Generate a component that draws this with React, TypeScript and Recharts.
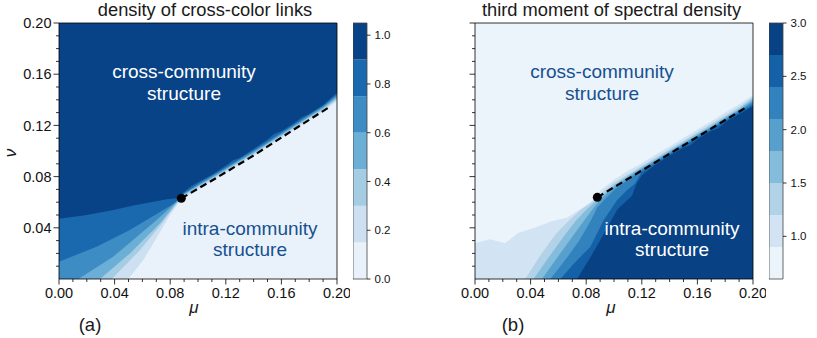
import React from 'react';
import {
  ComposedChart,
  Area,
  Line,
  Scatter,
  XAxis,
  YAxis,
  CartesianGrid,
  ReferenceLine,
  ReferenceArea,
} from 'recharts';

const FONT = '"Liberation Sans", Arial, Helvetica, sans-serif';

// ---------- axis ticks ----------
const X_TICKS = [0, 0.01, 0.02, 0.03, 0.04, 0.05, 0.06, 0.07, 0.08, 0.09, 0.1, 0.11, 0.12, 0.13, 0.14, 0.15, 0.16, 0.17, 0.18, 0.19, 0.2];
const X_LABELS = [0, 0.04, 0.08, 0.12, 0.16, 0.2];
const Y_TICKS = [0.01, 0.02, 0.03, 0.04, 0.05, 0.06, 0.07, 0.08, 0.09, 0.1, 0.11, 0.12, 0.13, 0.14, 0.15, 0.16, 0.17, 0.18, 0.19, 0.2];
const Y_LABELS = [0.04, 0.08, 0.12, 0.16, 0.2];

// ---------- colorbars ----------
const LEVELS_A = [0, 0.15, 0.3, 0.45, 0.6, 0.75, 0.9, 1.05];
const CB_TICKS_A = [0, 0.2, 0.4, 0.6, 0.8, 1.0];
const COLORS_A = ['#e9f2fa', '#cde0f1', '#a4cce3', '#6baed6', '#3d8dc4', '#1a68ae', '#084387'];

const LEVELS_B = [0.6, 0.9, 1.2, 1.5, 1.8, 2.1, 2.4, 2.7, 3.0];
const CB_TICKS_B = [1.0, 1.5, 2.0, 2.5, 3.0];
const COLORS_B = ['#ebf3fb', '#d2e3f3', '#b2d2e8', '#84bcdb', '#57a0ce', '#3282be', '#1461a8', '#084184'];

// ---------- panel (a): contour boundaries (nu as function of mu) ----------
const A_090 = [
  { x: 0, y: 0.047 }, { x: 0.02, y: 0.05 }, { x: 0.039, y: 0.0539 }, { x: 0.0535, y: 0.0575 },
  { x: 0.0775, y: 0.0623 }, { x: 0.085, y: 0.063 }, { x: 0.09, y: 0.068 }, { x: 0.095, y: 0.0725 },
  { x: 0.1, y: 0.0755 }, { x: 0.11, y: 0.0815 }, { x: 0.12, y: 0.0885 }, { x: 0.125, y: 0.0925 },
  { x: 0.13, y: 0.0945 }, { x: 0.14, y: 0.1015 }, { x: 0.15, y: 0.109 }, { x: 0.155, y: 0.1135 },
  { x: 0.16, y: 0.1155 }, { x: 0.17, y: 0.1225 }, { x: 0.175, y: 0.1265 }, { x: 0.18, y: 0.129 },
  { x: 0.19, y: 0.136 }, { x: 0.2, y: 0.1455 },
];
const A_075 = [
  { x: 0, y: 0.0135 }, { x: 0.027, y: 0.0252 }, { x: 0.051, y: 0.0383 }, { x: 0.075, y: 0.0539 },
  { x: 0.0847, y: 0.0604 }, { x: 0.09, y: 0.0672 }, { x: 0.1, y: 0.0743 }, { x: 0.11, y: 0.0807 },
  { x: 0.12, y: 0.0872 }, { x: 0.13, y: 0.0937 }, { x: 0.14, y: 0.1003 }, { x: 0.15, y: 0.1073 },
  { x: 0.16, y: 0.1143 }, { x: 0.17, y: 0.1213 }, { x: 0.18, y: 0.1283 }, { x: 0.19, y: 0.1351 },
  { x: 0.2, y: 0.1442 },
];
const A_060 = [
  { x: 0.0139, y: 0 }, { x: 0.039, y: 0.0174 }, { x: 0.0703, y: 0.046 }, { x: 0.0822, y: 0.058 },
  { x: 0.09, y: 0.0665 }, { x: 0.1, y: 0.0733 }, { x: 0.11, y: 0.0797 }, { x: 0.12, y: 0.0862 },
  { x: 0.13, y: 0.0927 }, { x: 0.14, y: 0.0993 }, { x: 0.15, y: 0.1063 }, { x: 0.16, y: 0.1133 },
  { x: 0.17, y: 0.1203 }, { x: 0.18, y: 0.1273 }, { x: 0.19, y: 0.1341 }, { x: 0.2, y: 0.1428 },
];
const A_045 = [
  { x: 0.0295, y: 0 }, { x: 0.051, y: 0.02 }, { x: 0.0727, y: 0.0435 }, { x: 0.0835, y: 0.058 },
  { x: 0.09, y: 0.0658 }, { x: 0.1, y: 0.0724 }, { x: 0.11, y: 0.0788 }, { x: 0.12, y: 0.0853 },
  { x: 0.13, y: 0.0918 }, { x: 0.14, y: 0.0984 }, { x: 0.15, y: 0.1054 }, { x: 0.16, y: 0.1124 },
  { x: 0.17, y: 0.1194 }, { x: 0.18, y: 0.1264 }, { x: 0.19, y: 0.1332 }, { x: 0.2, y: 0.1414 },
];
const A_030 = [
  { x: 0.038, y: 0 }, { x: 0.0583, y: 0.0227 }, { x: 0.075, y: 0.0448 }, { x: 0.0847, y: 0.059 },
  { x: 0.09, y: 0.065 }, { x: 0.1, y: 0.0715 }, { x: 0.11, y: 0.0779 }, { x: 0.12, y: 0.0844 },
  { x: 0.13, y: 0.0909 }, { x: 0.14, y: 0.0975 }, { x: 0.15, y: 0.1045 }, { x: 0.16, y: 0.1115 },
  { x: 0.17, y: 0.1185 }, { x: 0.18, y: 0.1255 }, { x: 0.19, y: 0.1323 }, { x: 0.2, y: 0.1402 },
];
const A_015 = [
  { x: 0.0499, y: 0 }, { x: 0.0607, y: 0.0148 }, { x: 0.0714, y: 0.0344 }, { x: 0.0799, y: 0.05 },
  { x: 0.0858, y: 0.059 }, { x: 0.09, y: 0.0635 }, { x: 0.1, y: 0.07 }, { x: 0.11, y: 0.0764 },
  { x: 0.12, y: 0.0829 }, { x: 0.13, y: 0.0894 }, { x: 0.14, y: 0.096 }, { x: 0.15, y: 0.103 },
  { x: 0.16, y: 0.11 }, { x: 0.17, y: 0.117 }, { x: 0.18, y: 0.124 }, { x: 0.19, y: 0.1307 },
  { x: 0.2, y: 0.139 },
];
const DASH_A = [
  { x: 0.088, y: 0.063 }, { x: 0.111, y: 0.0775 }, { x: 0.14, y: 0.0965 },
  { x: 0.1686, y: 0.1165 }, { x: 0.194, y: 0.134 },
];
const DOT_A = [{ x: 0.088, y: 0.063 }];

// ---------- panel (b) ----------
const B_090 = [
  { x: 0, y: 0.028 }, { x: 0.0108, y: 0.031 }, { x: 0.0217, y: 0.028 }, { x: 0.031, y: 0.036 },
  { x: 0.043, y: 0.04 }, { x: 0.0544, y: 0.045 }, { x: 0.0664, y: 0.048 }, { x: 0.0785, y: 0.0565 },
  { x: 0.0843, y: 0.061 }, { x: 0.09, y: 0.069 }, { x: 0.1, y: 0.0775 }, { x: 0.11, y: 0.0845 },
  { x: 0.12, y: 0.0905 }, { x: 0.13, y: 0.0972 }, { x: 0.14, y: 0.1035 }, { x: 0.15, y: 0.1102 },
  { x: 0.16, y: 0.1168 }, { x: 0.17, y: 0.1232 }, { x: 0.18, y: 0.13 }, { x: 0.19, y: 0.1365 },
  { x: 0.2, y: 0.1437 },
];
const B_120 = [
  { x: 0.0361, y: 0 }, { x: 0.048, y: 0.02 }, { x: 0.058, y: 0.035 }, { x: 0.068, y: 0.046 },
  { x: 0.076, y: 0.054 }, { x: 0.084, y: 0.06 }, { x: 0.09, y: 0.0665 }, { x: 0.1, y: 0.0752 },
  { x: 0.11, y: 0.0819 }, { x: 0.12, y: 0.0885 }, { x: 0.13, y: 0.095 }, { x: 0.14, y: 0.1016 },
  { x: 0.15, y: 0.1081 }, { x: 0.16, y: 0.1147 }, { x: 0.17, y: 0.1212 }, { x: 0.18, y: 0.1278 },
  { x: 0.19, y: 0.1343 }, { x: 0.2, y: 0.1422 },
];
const B_150 = [
  { x: 0.0421, y: 0 }, { x: 0.055, y: 0.02 }, { x: 0.065, y: 0.035 }, { x: 0.073, y: 0.046 },
  { x: 0.08, y: 0.054 }, { x: 0.087, y: 0.061 }, { x: 0.095, y: 0.0685 }, { x: 0.1, y: 0.0735 },
  { x: 0.11, y: 0.0806 }, { x: 0.12, y: 0.0873 }, { x: 0.13, y: 0.0938 }, { x: 0.14, y: 0.1004 },
  { x: 0.15, y: 0.1069 }, { x: 0.16, y: 0.1135 }, { x: 0.17, y: 0.12 }, { x: 0.18, y: 0.1266 },
  { x: 0.19, y: 0.1331 }, { x: 0.2, y: 0.141 },
];
const B_180 = [
  { x: 0.0482, y: 0 }, { x: 0.06, y: 0.018 }, { x: 0.07, y: 0.033 }, { x: 0.078, y: 0.045 },
  { x: 0.085, y: 0.055 }, { x: 0.09, y: 0.062 }, { x: 0.1, y: 0.0718 }, { x: 0.11, y: 0.0795 },
  { x: 0.12, y: 0.0863 }, { x: 0.13, y: 0.0928 }, { x: 0.14, y: 0.0994 }, { x: 0.15, y: 0.1059 },
  { x: 0.16, y: 0.1125 }, { x: 0.17, y: 0.119 }, { x: 0.18, y: 0.1256 }, { x: 0.19, y: 0.1321 },
  { x: 0.2, y: 0.1395 },
];
const B_210 = [
  { x: 0.0542, y: 0 }, { x: 0.065, y: 0.015 }, { x: 0.075, y: 0.03 }, { x: 0.083, y: 0.045 },
  { x: 0.088, y: 0.056 }, { x: 0.095, y: 0.064 }, { x: 0.1, y: 0.0695 }, { x: 0.11, y: 0.0775 },
  { x: 0.12, y: 0.0853 }, { x: 0.13, y: 0.0918 }, { x: 0.14, y: 0.0984 }, { x: 0.15, y: 0.1049 },
  { x: 0.16, y: 0.1115 }, { x: 0.17, y: 0.118 }, { x: 0.18, y: 0.1246 }, { x: 0.19, y: 0.1311 },
  { x: 0.2, y: 0.138 },
];
const B_240 = [
  { x: 0.0614, y: 0 }, { x: 0.071, y: 0.012 }, { x: 0.083, y: 0.0252 }, { x: 0.0926, y: 0.046 },
  { x: 0.1023, y: 0.0617 }, { x: 0.1095, y: 0.0695 }, { x: 0.115, y: 0.0745 }, { x: 0.12, y: 0.0835 },
  { x: 0.13, y: 0.0905 }, { x: 0.14, y: 0.0972 }, { x: 0.15, y: 0.1037 }, { x: 0.16, y: 0.1103 },
  { x: 0.17, y: 0.1168 }, { x: 0.18, y: 0.1234 }, { x: 0.19, y: 0.1299 }, { x: 0.2, y: 0.1362 },
];
const B_270 = [
  { x: 0.0734, y: 0 }, { x: 0.0833, y: 0.0174 }, { x: 0.0929, y: 0.0357 }, { x: 0.1025, y: 0.0545 },
  { x: 0.113, y: 0.065 }, { x: 0.1158, y: 0.0734 }, { x: 0.12, y: 0.081 }, { x: 0.13, y: 0.0895 },
  { x: 0.14, y: 0.0962 }, { x: 0.15, y: 0.1025 }, { x: 0.155, y: 0.1045 }, { x: 0.16, y: 0.1092 },
  { x: 0.17, y: 0.1158 }, { x: 0.175, y: 0.1175 }, { x: 0.18, y: 0.1225 }, { x: 0.19, y: 0.1288 },
  { x: 0.2, y: 0.135 },
];
const DASH_B = [
  { x: 0.088, y: 0.0638 }, { x: 0.11, y: 0.0782 }, { x: 0.136, y: 0.0952 },
  { x: 0.165, y: 0.1143 }, { x: 0.195, y: 0.134 },
];
const DOT_B = [{ x: 0.088, y: 0.0638 }];

const CURVES_A = [A_090, A_075, A_060, A_045, A_030, A_015];
const CURVES_B = [B_090, B_120, B_150, B_180, B_210, B_240, B_270];

const isIn = (arr: number[], v: number) => arr.some((a) => Math.abs(a - v) < 1e-9);

const makeXTick = (labels: number[]) => (props: any) => {
  const { x, y, payload } = props;
  const v = payload.value;
  const major = isIn(labels, v);
  const len = major ? 5.5 : 3;
  return (
    <g>
      <line x1={x} x2={x} y1={y} y2={y + len} stroke="#000" strokeWidth={0.8} />
      {major && (
        <text x={x} y={y + 19} textAnchor="middle" fontSize={14.5} fill="#111" fontFamily={FONT}>
          {v.toFixed(2)}
        </text>
      )}
    </g>
  );
};

const makeYTick = (labels: number[], show: boolean) => (props: any) => {
  const { x, y, payload } = props;
  const v = payload.value;
  const major = isIn(labels, v);
  const len = major ? 5.5 : 3;
  return (
    <g>
      <line x1={x - len} x2={x} y1={y} y2={y} stroke="#000" strokeWidth={0.8} />
      {major && show && (
        <text x={x - 7.5} y={y + 5.2} textAnchor="end" fontSize={14.5} fill="#111" fontFamily={FONT}>
          {v.toFixed(2)}
        </text>
      )}
    </g>
  );
};

function Panel(props: {
  left: number;
  grid: string;
  curves: { x: number; y: number }[][];
  colors: string[];
  dash: { x: number; y: number }[];
  dot: { x: number; y: number }[];
  showYLabels: boolean;
}) {
  const { left, grid, curves, colors, dash, dot, showYLabels } = props;
  return (
    <div style={{ position: 'absolute', left, top: 0 }}>
      <ComposedChart width={350} height={338} margin={{ top: 23, right: 13, bottom: 0, left: 0 }}>
        <CartesianGrid horizontal={false} vertical={false} fill={grid} fillOpacity={1} />
        <XAxis
          type="number"
          dataKey="x"
          domain={[0, 0.2]}
          ticks={X_TICKS}
          interval={0}
          height={59}
          tickSize={0}
          tickMargin={0}
          tickLine={false}
          axisLine={{ stroke: '#000', strokeWidth: 0.8 }}
          tick={makeXTick(X_LABELS)}
          allowDataOverflow
        />
        <YAxis
          type="number"
          dataKey="y"
          domain={[0, 0.2]}
          ticks={Y_TICKS}
          interval={0}
          width={59}
          tickSize={0}
          tickMargin={0}
          tickLine={false}
          axisLine={{ stroke: '#000', strokeWidth: 0.8 }}
          tick={makeYTick(Y_LABELS, showYLabels)}
          allowDataOverflow
        />
        {curves.map((d, i) => (
          <Area
            key={i}
            data={d}
            dataKey="y"
            type="linear"
            stroke="none"
            fill={colors[i]}
            fillOpacity={1}
            baseValue={0}
            dot={false}
            activeDot={false}
            isAnimationActive={false}
          />
        ))}
        <Line
          data={dash}
          dataKey="y"
          type="linear"
          stroke="#000"
          strokeWidth={2.2}
          strokeDasharray="7 4"
          dot={false}
          activeDot={false}
          isAnimationActive={false}
        />
        <Scatter data={dot} dataKey="y" fill="#000" isAnimationActive={false} />
        <ReferenceLine y={0.2} stroke="#000" strokeWidth={0.8} />
        <ReferenceLine x={0.2} stroke="#000" strokeWidth={0.8} />
      </ComposedChart>
    </div>
  );
}

function ColorBar(props: { left: number; levels: number[]; colors: string[]; ticks: number[]; axisWidth: number }) {
  const { left, levels, colors, ticks, axisWidth } = props;
  const lo = levels[0];
  const hi = levels[levels.length - 1];
  return (
    <div style={{ position: 'absolute', left, top: 0 }}>
      <ComposedChart width={14 + axisWidth} height={338} margin={{ top: 23, right: 0, bottom: 59, left: 0 }}>
        <XAxis type="number" dataKey="x" domain={[0, 1]} hide allowDataOverflow />
        <YAxis
          type="number"
          orientation="right"
          domain={[lo, hi]}
          ticks={ticks}
          interval={0}
          width={axisWidth}
          tickSize={3.5}
          tickMargin={4}
          axisLine={false}
          tickLine={{ stroke: '#000', strokeWidth: 0.8 }}
          tick={{ fontSize: 11.5, fill: '#111', fontFamily: FONT }}
          tickFormatter={(v: number) => v.toFixed(1)}
          allowDataOverflow
        />
        {colors.map((c, i) => (
          <ReferenceArea
            key={i}
            x1={0}
            x2={1}
            y1={levels[i]}
            y2={levels[i + 1]}
            fill={c}
            fillOpacity={1}
            stroke="none"
          />
        ))}
        <ReferenceArea x1={0} x2={1} y1={lo} y2={hi} fill="none" fillOpacity={0} stroke="#444" strokeWidth={0.8} />
      </ComposedChart>
    </div>
  );
}

export default function App() {
  const titleStyle = { fontFamily: FONT, fontSize: 18.3, fill: '#1a1a1a' } as const;
  const annot = { fontFamily: FONT, fontSize: 19 } as const;
  const navy = '#17508f';
  return (
    <div
      style={{
        position: 'absolute',
        left: 0,
        top: 0,
        width: 817,
        height: 338,
        overflow: 'hidden',
        background: '#fff',
        fontFamily: FONT,
      }}
    >
      <Panel left={0} grid={COLORS_A[6]} curves={CURVES_A} colors={COLORS_A.slice(0, 6).reverse()} dash={DASH_A} dot={DOT_A} showYLabels />
      <ColorBar left={353} levels={LEVELS_A} colors={COLORS_A} ticks={CB_TICKS_A} axisWidth={36} />
      <Panel left={416} grid={COLORS_B[0]} curves={CURVES_B} colors={COLORS_B.slice(1)} dash={DASH_B} dot={DOT_B} showYLabels={false} />
      <ColorBar left={769} levels={LEVELS_B} colors={COLORS_B} ticks={CB_TICKS_B} axisWidth={34} />
      <svg width={817} height={338} style={{ position: 'absolute', left: 0, top: 0, pointerEvents: 'none' }}>
        <text x={205} y={16} textAnchor="middle" {...titleStyle}>density of cross-color links</text>
        <text x={611.5} y={16} textAnchor="middle" {...titleStyle}>third moment of spectral density</text>

        <text x={194} y={313} textAnchor="middle" fontFamily={FONT} fontSize={17} fontStyle="italic" fill="#1a1a1a">μ</text>
        <text x={611} y={313} textAnchor="middle" fontFamily={FONT} fontSize={17} fontStyle="italic" fill="#1a1a1a">μ</text>
        <text transform="translate(15.5,153) rotate(-90)" textAnchor="middle" fontFamily={FONT} fontSize={17} fontStyle="italic" fill="#1a1a1a">ν</text>

        <text x={90} y={331} textAnchor="middle" fontFamily={FONT} fontSize={18.5} fill="#1a1a1a">(a)</text>
        <text x={513} y={331} textAnchor="middle" fontFamily={FONT} fontSize={18.5} fill="#1a1a1a">(b)</text>

        <text x={184} y={78} textAnchor="middle" {...annot} fill="#ffffff">cross-community</text>
        <text x={184} y={99.5} textAnchor="middle" {...annot} fill="#ffffff">structure</text>
        <text x={250} y={235} textAnchor="middle" {...annot} fill={navy}>intra-community</text>
        <text x={250} y={256} textAnchor="middle" {...annot} fill={navy}>structure</text>

        <text x={602} y={78} textAnchor="middle" {...annot} fill={navy}>cross-community</text>
        <text x={602} y={99.5} textAnchor="middle" {...annot} fill={navy}>structure</text>
        <text x={672} y={235} textAnchor="middle" {...annot} fill="#ffffff">intra-community</text>
        <text x={672} y={256} textAnchor="middle" {...annot} fill="#ffffff">structure</text>
      </svg>
    </div>
  );
}
